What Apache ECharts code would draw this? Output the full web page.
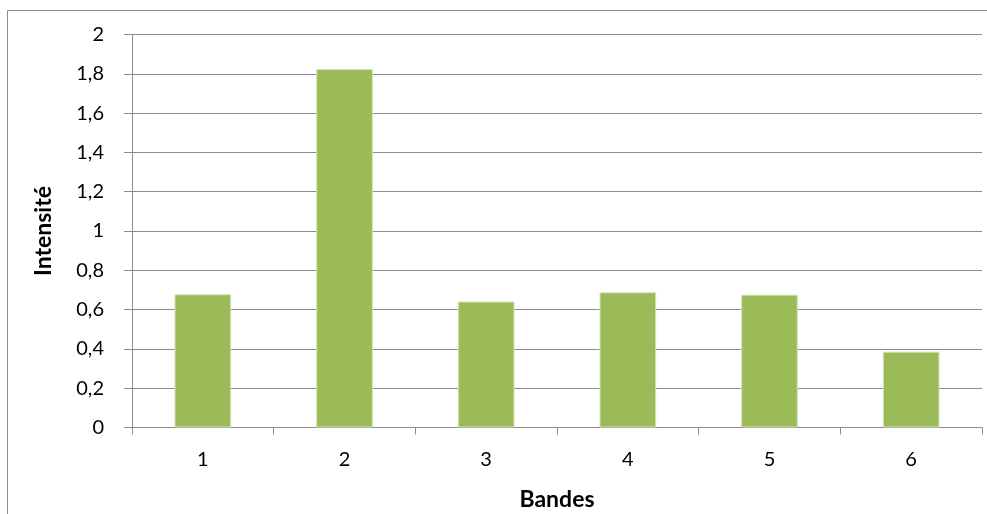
<!DOCTYPE html>
<html><head><meta charset="utf-8">
<script src="https://cdn.jsdelivr.net/npm/echarts@6/dist/echarts.min.js"></script>
<style>html,body{margin:0;padding:0;background:#fff}#c{width:987px;height:514px}</style>
</head><body><div id="c"></div>
<script>
const categories = ['1', '2', '3', '4', '5', '6'];
const intensite = [0.678, 1.824, 0.641, 0.688, 0.676, 0.386];
const yTickLabels = ['0', '0,2', '0,4', '0,6', '0,8', '1', '1,2', '1,4', '1,6', '1,8', '2'];
const xTitle = 'Bandes';
const yTitle = 'Intensité';

const FONT = 'Lato, "Open Sans", sans-serif';
const chart = echarts.init(document.getElementById('c'));
chart.setOption({
  animation: false,
  graphic: [{
    type: 'rect', silent: true,
    shape: { x: 7.5, y: 10.5, width: 990, height: 520 },
    style: { fill: 'none', stroke: '#8c8c8c', lineWidth: 1 }
  }],
  grid: { left: 132, right: 5, top: 34.5, bottom: 86.5, containLabel: false, outerBoundsMode: 'none' },
  xAxis: {
    type: 'category', data: categories,
    axisLine: { lineStyle: { color: '#8c8c8c', width: 1 } },
    axisTick: { show: true, length: 7, alignWithLabel: false, lineStyle: { color: '#8c8c8c' } },
    axisLabel: { color: '#000', fontSize: 20, fontFamily: FONT, margin: 22 },
    name: xTitle, nameLocation: 'middle', nameGap: 61,
    nameTextStyle: { color: '#000', fontSize: 23, fontWeight: 'bold', fontFamily: FONT }
  },
  yAxis: {
    type: 'value', min: 0, max: 2, interval: 0.2,
    axisLine: { show: true, lineStyle: { color: '#8c8c8c', width: 1 } },
    axisTick: { show: true, length: 8, lineStyle: { color: '#8c8c8c' } },
    splitLine: { lineStyle: { color: '#8c8c8c', width: 1 } },
    axisLabel: {
      color: '#000', fontSize: 20, fontFamily: FONT, margin: 28,
      formatter: v => yTickLabels[Math.round(v / 0.2)]
    },
    name: yTitle, nameLocation: 'middle', nameGap: 77, nameRotate: 90,
    nameTextStyle: { color: '#000', fontSize: 23, fontWeight: 'bold', fontFamily: FONT }
  },
  series: [{
    type: 'bar', data: intensite, barWidth: '40%',
    itemStyle: { color: '#9bbb59', borderColor: '#d4e3b5', borderWidth: 1 }
  }]
});
</script></body></html>
